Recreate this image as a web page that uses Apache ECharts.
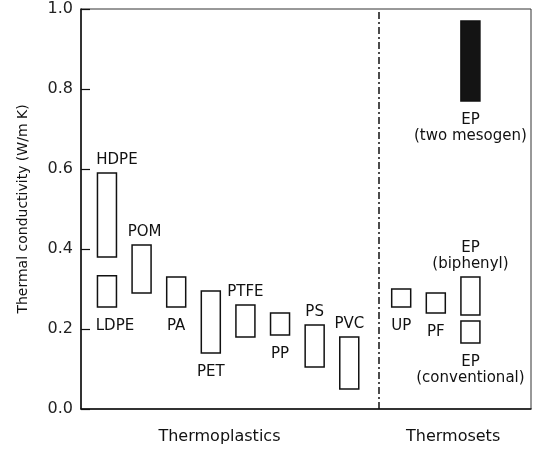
<!DOCTYPE html>
<html>
<head>
<meta charset="utf-8">
<script src="https://cdn.jsdelivr.net/npm/echarts@6/dist/echarts.min.js"></script>
<style>
  html, body { margin: 0; padding: 0; background: #fff; }
  #chart { width: 535px; height: 450px; }
</style>
</head>
<body>
<div id="chart"></div>
<script>
// data
const materials = ['HDPE', 'LDPE', 'POM', 'PA', 'PET', 'PTFE', 'PP', 'PS', 'PVC',
    'UP', 'PF', 'EP\n(two mesogen)', 'EP\n(biphenyl)', 'EP\n(conventional)'];
const slot = [1, 1, 3, 5, 7, 9, 11, 13, 15, 18, 20, 22, 22, 22];
const kLow = [0.38, 0.255, 0.29, 0.255, 0.14, 0.18, 0.185, 0.105, 0.05, 0.255, 0.24, 0.77, 0.235, 0.165];
const kHigh = [0.59, 0.333, 0.41, 0.33, 0.295, 0.26, 0.24, 0.21, 0.18, 0.30, 0.29, 0.97, 0.33, 0.22];
const filled = [0, 0, 0, 0, 0, 0, 0, 0, 0, 0, 0, 1, 0, 0];
const labelSide = ['top', 'bottom', 'top', 'bottom', 'bottom', 'top', 'bottom', 'top', 'top',
    'bottom', 'bottom', 'bottom', 'top', 'bottom'];
const groups = ['Thermoplastics', 'Thermosets'];
const groupCenter = [7.5, 21];
const dividerAt = 16.7;

// small label nudges (px)
const labelShift = { 'HDPE': 10, 'LDPE': 8, 'POM': 3 };

const font = 'DejaVu Sans';
const ink = '#111';

var data = materials.map(function (m, i) {
    return [slot[i], kLow[i], kHigh[i], i];
});

var option = {
    animation: false,
    backgroundColor: '#fff',
    grid: {
        left: 81, right: 4, top: 9, bottom: 41,
        show: true, borderColor: '#333', borderWidth: 1
    },
    xAxis: {
        type: 'value',
        min: -0.5,
        max: 25.5,
        axisLine: { show: true, onZero: false, lineStyle: { color: ink, width: 1.5 } },
        axisTick: { show: false },
        splitLine: { show: false },
        axisLabel: {
            customValues: groupCenter,
            margin: 20,
            color: ink,
            fontFamily: font,
            fontSize: 16,
            formatter: function (v) {
                var i = groupCenter.indexOf(v);
                return i >= 0 ? groups[i] : '';
            }
        }
    },
    yAxis: {
        type: 'value',
        min: 0,
        max: 1,
        interval: 0.2,
        name: 'Thermal conductivity (W/m K)',
        nameLocation: 'middle',
        nameGap: 51,
        nameTextStyle: { color: ink, fontFamily: font, fontSize: 14 },
        axisLine: { show: true, onZero: false, lineStyle: { color: ink, width: 1.5 } },
        axisTick: { show: true, inside: true, length: 9, lineStyle: { color: ink, width: 1.2 } },
        splitLine: { show: false },
        axisLabel: {
            margin: 8,
            color: '#222',
            fontFamily: font,
            fontSize: 16,
            formatter: function (v) { return v.toFixed(1); }
        }
    },
    series: [{
        type: 'custom',
        data: data,
        clip: false,
        renderItem: function (params, api) {
            var i = api.value(3);
            var top = api.coord([api.value(0), api.value(2)]);
            var bot = api.coord([api.value(0), api.value(1)]);
            var w = 19;
            var side = labelSide[i];
            return {
                type: 'rect',
                shape: { x: top[0] - w / 2, y: top[1], width: w, height: bot[1] - top[1] },
                style: {
                    fill: filled[i] ? '#141414' : 'rgba(0,0,0,0)',
                    stroke: ink,
                    lineWidth: 1.5
                },
                textContent: {
                    style: {
                        text: materials[i],
                        fill: ink,
                        fontFamily: font,
                        fontSize: 15,
                        align: 'center',
                        lineHeight: 16
                    }
                },
                textConfig: {
                    position: side,
                    distance: side === 'top' ? 4 : 10,
                    offset: [labelShift[materials[i]] || 0, 0]
                }
            };
        },
        markLine: {
            silent: true,
            symbol: 'none',
            label: { show: false },
            lineStyle: { color: ink, width: 1.5, type: [7, 3, 2, 3] },
            data: [{ xAxis: dividerAt }]
        }
    }]
};

var myChart = echarts.init(document.getElementById('chart'));
myChart.setOption(option);
</script>
</body>
</html>
